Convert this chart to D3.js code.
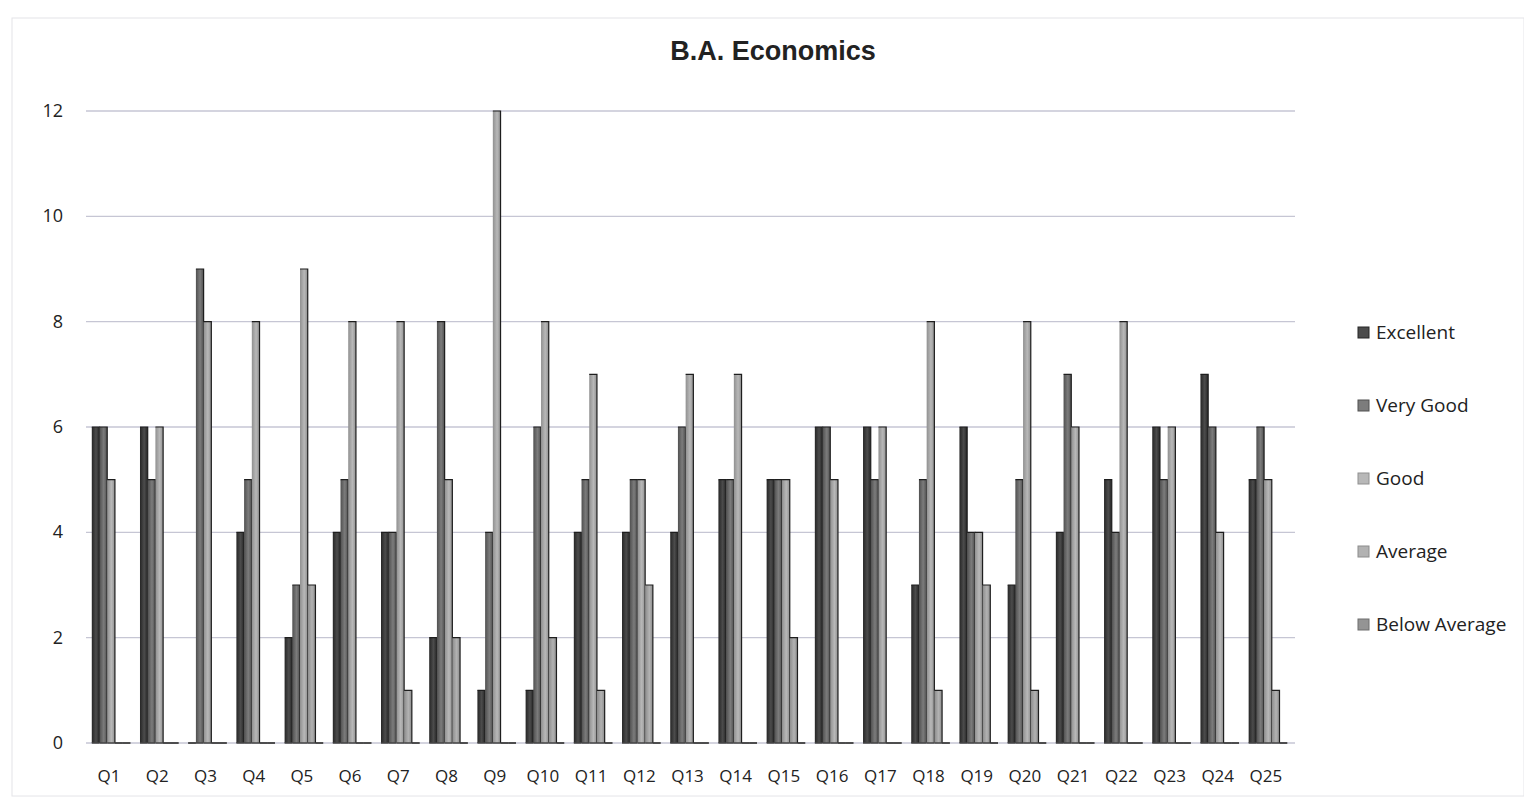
<!DOCTYPE html>
<html>
<head>
<meta charset="utf-8">
<script src="https://cdn.jsdelivr.net/npm/d3@7"></script>
<style>
  body { margin: 0; background: #fff; }
  svg text { font-family: "Open Sans", "Liberation Sans", sans-serif; fill: #222; }
</style>
</head>
<body>
<div id="chart"></div>
<script>
// data
const questions = ["Q1","Q2","Q3","Q4","Q5","Q6","Q7","Q8","Q9","Q10","Q11","Q12","Q13",
  "Q14","Q15","Q16","Q17","Q18","Q19","Q20","Q21","Q22","Q23","Q24","Q25"];
const seriesNames = ["Excellent", "Very Good", "Good", "Average", "Below Average"];
const excellent    = [6,6,0,4,2,4,4,2,1,1,4,4,4,5,5,6,6,3,6,3,4,5,6,7,5];
const veryGood     = [6,5,9,5,3,5,4,8,4,6,5,5,6,5,5,6,5,5,4,5,7,4,5,6,6];
const good         = [5,6,8,8,9,8,8,5,12,8,7,5,7,7,5,5,6,8,4,8,6,8,6,4,5];
const average      = [0,0,0,0,3,0,1,2,0,2,1,3,0,0,2,0,0,1,3,1,0,0,0,0,1];
const belowAverage = [0,0,0,0,0,0,0,0,0,0,0,0,0,0,0,0,0,0,0,0,0,0,0,0,0];
const yTicks = [0, 2, 4, 6, 8, 10, 12];

const seriesValues = [excellent, veryGood, good, average, belowAverage];

const width = 1524, height = 808;
const margin = { left: 86, right: 231, top: 111, bottom: 65 };

const svg = d3.select("#chart").append("svg")
  .attr("width", width).attr("height", height);

// faint chart border from the scan
svg.append("rect")
  .attr("x", 12).attr("y", 18)
  .attr("width", width - 12).attr("height", height - 30)
  .attr("fill", "none")
  .attr("stroke", "#e4e4e8");

// shaded fills, darker at edges like the scanned print
const colors = [
  ["#262626", "#4c4c4c"],
  ["#505050", "#7c7c7c"],
  ["#909090", "#b8b8b8"],
  ["#8c8c8c", "#b2b2b2"],
  ["#6e6e6e", "#949494"]
];
const defs = svg.append("defs");
colors.forEach(function (c, i) {
  const g = defs.append("linearGradient").attr("id", "grad" + i)
    .attr("x1", "0%").attr("x2", "100%").attr("y1", "0%").attr("y2", "0%");
  g.append("stop").attr("offset", "0%").attr("stop-color", c[0]);
  g.append("stop").attr("offset", "55%").attr("stop-color", c[1]);
  g.append("stop").attr("offset", "100%").attr("stop-color", c[0]);
});

const x0 = d3.scaleBand()
  .domain(questions)
  .range([margin.left, width - margin.right])
  .paddingInner(0.2)
  .paddingOuter(0.12);

const x1 = d3.scaleBand()
  .domain(seriesNames)
  .range([0, x0.bandwidth()]);

const y = d3.scaleLinear()
  .domain([0, 12])
  .range([height - margin.bottom, margin.top]);

// gridlines
svg.append("g")
  .selectAll("line")
  .data(yTicks)
  .join("line")
  .attr("x1", margin.left)
  .attr("x2", width - margin.right + 2)
  .attr("y1", (d) => y(d))
  .attr("y2", (d) => y(d))
  .attr("stroke", "#c6c6d4")
  .attr("stroke-width", 1.3);

// y labels
svg.append("g")
  .selectAll("text")
  .data(yTicks)
  .join("text")
  .attr("x", 63)
  .attr("y", (d) => y(d) + 6)
  .attr("text-anchor", "end")
  .style("font-size", "18px")
  .text((d) => d);

// title
svg.append("text")
  .attr("x", 773)
  .attr("y", 60)
  .attr("text-anchor", "middle")
  .style("font-family", "'Liberation Sans', Arial, sans-serif")
  .style("font-weight", "bold")
  .style("font-size", "27px")
  .text("B.A. Economics");

// bars
const groups = svg.append("g")
  .selectAll("g")
  .data(questions)
  .join("g")
  .attr("transform", (d) => "translate(" + x0(d) + ",0)");

const bars = groups.selectAll("g")
  .data((q, qi) => seriesNames.map((s, si) => ({ series: s, si: si, value: seriesValues[si][qi] })))
  .join("g");

bars.append("rect")
  .attr("x", (d) => x1(d.series))
  .attr("y", (d) => y(d.value))
  .attr("width", x1.bandwidth())
  .attr("height", (d) => y(0) - y(d.value))
  .attr("fill", (d) => "url(#grad" + d.si + ")");

// outline right edge and top of each bar
bars.append("path")
  .attr("d", function (d) {
    const l = x1(d.series), r = l + x1.bandwidth();
    return "M" + l + "," + y(d.value) + "H" + r + "V" + y(0);
  })
  .attr("fill", "none")
  .attr("stroke", "#1e1e1e")
  .attr("stroke-width", 1.2);

// base line so zero values still show
bars.append("line")
  .attr("x1", (d) => x1(d.series))
  .attr("x2", (d) => x1(d.series) + x1.bandwidth())
  .attr("y1", y(0))
  .attr("y2", y(0))
  .attr("stroke", "#444")
  .attr("stroke-width", 1.5);

// x labels
svg.append("g")
  .selectAll("text")
  .data(questions)
  .join("text")
  .attr("x", (d) => x0(d) + x0.bandwidth() / 2 - 2)
  .attr("y", 782)
  .attr("text-anchor", "middle")
  .style("font-size", "17px")
  .text((d) => d);

// legend
const legend = svg.append("g")
  .selectAll("g")
  .data(seriesNames)
  .join("g")
  .attr("transform", (d, i) => "translate(1358," + (333 + i * 73) + ")");

legend.append("rect")
  .attr("x", 0)
  .attr("y", -6)
  .attr("width", 11)
  .attr("height", 11)
  .attr("fill", (d, i) => colors[i][1])
  .attr("stroke", (d, i) => colors[i][0]);

legend.append("text")
  .attr("x", 18)
  .attr("y", 6)
  .style("font-size", "19px")
  .text((d) => d);
</script>
</body>
</html>
